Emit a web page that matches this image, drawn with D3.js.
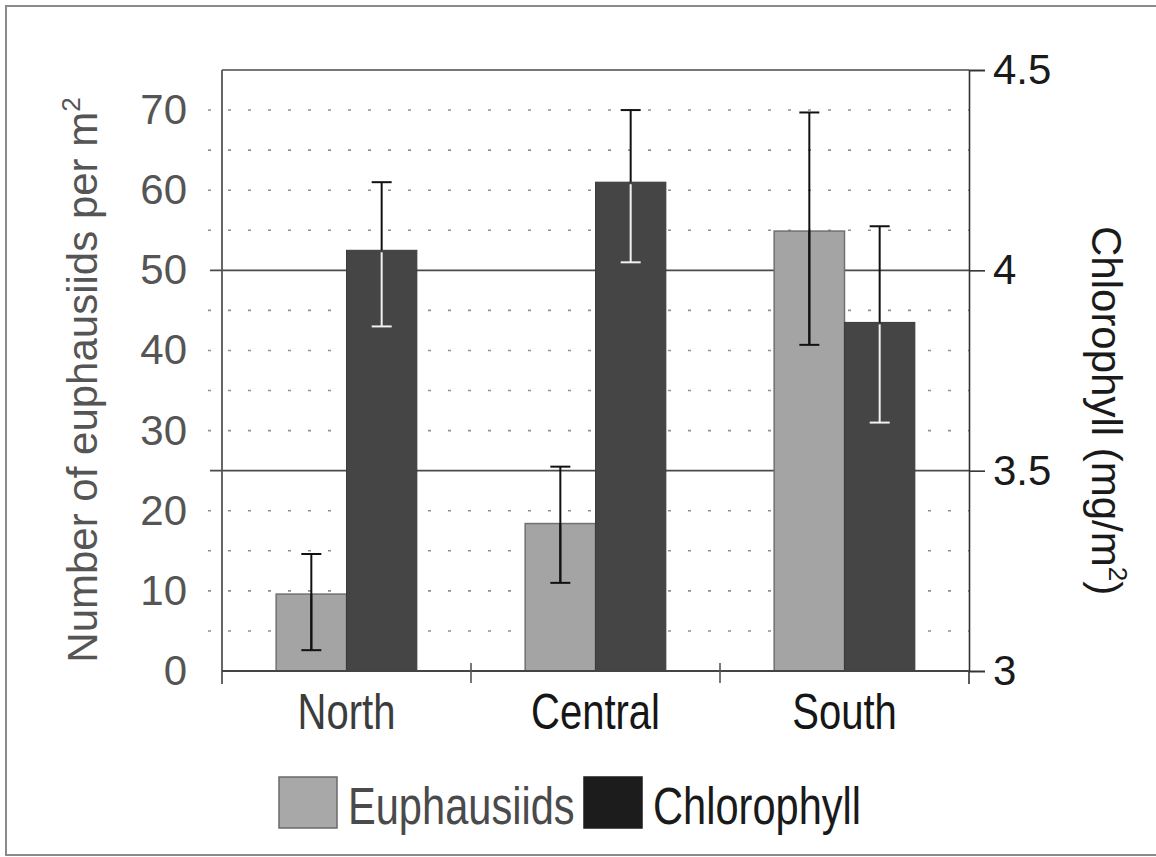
<!DOCTYPE html>
<html>
<head>
<meta charset="utf-8">
<script src="https://cdn.jsdelivr.net/npm/d3@7"></script>
<style>
  html, body { margin: 0; padding: 0; background: #fff; }
  svg { display: block; font-family: "Liberation Sans", Arial, Helvetica, sans-serif; }
</style>
</head>
<body>
<svg id="chart" width="1156" height="857"></svg>
<script>
// data
var categories = ["North", "Central", "South"];
var series = ["Euphausiids", "Chlorophyll"];

// euphausiids per m2 (left axis)
var euphausiids = [9.6, 18.4, 54.9];
var euphLow = [2.6, 11.0, 40.7];
var euphHigh = [14.6, 25.5, 69.7];

// chlorophyll mg/m2 (right axis)
var chlorophyll = [4.05, 4.22, 3.87];
var chlLow = [3.86, 4.02, 3.62];
var chlHigh = [4.22, 4.40, 4.11];

var leftTicks = [0, 10, 20, 30, 40, 50, 60, 70];
var rightTicks = [3, 3.5, 4, 4.5];

var svg = d3.select("#chart");

var plot = {left: 222, right: 969, top: 70, bottom: 671};

var yL = d3.scaleLinear().domain([0, 75]).range([plot.bottom, plot.top]);
var yR = d3.scaleLinear().domain([3, 4.5]).range([plot.bottom, plot.top]);

var x0 = d3.scaleBand().domain(categories).range([plot.left, plot.right]).paddingInner(0);
var x1 = d3.scaleBand().domain(series).range([0, x0.bandwidth()]).paddingInner(0).paddingOuter(0.77);

// outer frame
svg.append("rect")
  .attr("x", 6).attr("y", 6)
  .attr("width", 1170).attr("height", 849)
  .attr("fill", "none")
  .attr("stroke", "#8a8a8a")
  .attr("stroke-width", 2);

// dotted minor gridlines every 0.1 on the right axis
var minor = d3.range(31, 45).filter(function (v) { return v % 5 !== 0; }).map(function (v) { return v / 10; });

svg.append("g").selectAll("line")
  .data(minor)
  .enter().append("line")
  .attr("x1", plot.left - 14)
  .attr("x2", plot.right)
  .attr("y1", function (d) { return yR(d); })
  .attr("y2", function (d) { return yR(d); })
  .attr("stroke", "#8f8f8f")
  .attr("stroke-width", 1.6)
  .attr("stroke-dasharray", "3,17");

// solid major gridlines
svg.append("g").selectAll("line")
  .data([3.5, 4])
  .enter().append("line")
  .attr("x1", plot.left - 12)
  .attr("x2", plot.right)
  .attr("y1", function (d) { return yR(d); })
  .attr("y2", function (d) { return yR(d); })
  .attr("stroke", "#4a4a4a")
  .attr("stroke-width", 1.6);

// top border
svg.append("line")
  .attr("x1", plot.left).attr("x2", plot.right)
  .attr("y1", plot.top).attr("y2", plot.top)
  .attr("stroke", "#4a4a4a").attr("stroke-width", 1.6);

// bars
var groups = svg.append("g").selectAll("g")
  .data(categories)
  .enter().append("g")
  .attr("transform", function (d) { return "translate(" + x0(d) + ",0)"; });

groups.append("rect")
  .attr("x", x1("Euphausiids"))
  .attr("width", x1.bandwidth())
  .attr("y", function (d, i) { return yL(euphausiids[i]); })
  .attr("height", function (d, i) { return yL(0) - yL(euphausiids[i]); })
  .attr("fill", "#a4a4a4")
  .attr("stroke", "#707070")
  .attr("stroke-width", 1.5);

groups.append("rect")
  .attr("x", x1("Chlorophyll"))
  .attr("width", x1.bandwidth())
  .attr("y", function (d, i) { return yR(chlorophyll[i]); })
  .attr("height", function (d, i) { return yR(3) - yR(chlorophyll[i]); })
  .attr("fill", "#454545")
  .attr("stroke", "#3a3a3a")
  .attr("stroke-width", 1);

// error bars
var capW = 10;

function errorBar(g, cx, yTop, yBot, yBar, inside) {
  // black whisker
  g.append("line")
    .attr("x1", cx).attr("x2", cx)
    .attr("y1", yTop).attr("y2", inside ? yBar : yBot)
    .attr("stroke", "#111").attr("stroke-width", 2);
  g.append("line")
    .attr("x1", cx - capW).attr("x2", cx + capW)
    .attr("y1", yTop).attr("y2", yTop)
    .attr("stroke", "#111").attr("stroke-width", 2);
  var col = inside ? "#f2f2f2" : "#111";
  g.append("line")
    .attr("x1", cx).attr("x2", cx)
    .attr("y1", inside ? yBar + 2 : yBar).attr("y2", yBot)
    .attr("stroke", col).attr("stroke-width", 2);
  g.append("line")
    .attr("x1", cx - capW).attr("x2", cx + capW)
    .attr("y1", yBot).attr("y2", yBot)
    .attr("stroke", col).attr("stroke-width", 2);
}

groups.each(function (d, i) {
  var g = d3.select(this);
  var cxE = x1("Euphausiids") + x1.bandwidth() / 2;
  var cxC = x1("Chlorophyll") + x1.bandwidth() / 2;
  errorBar(g, cxE, yL(euphHigh[i]), yL(euphLow[i]), yL(euphausiids[i]), false);
  errorBar(g, cxC, yR(chlHigh[i]), yR(chlLow[i]), yR(chlorophyll[i]), true);
});

// left axis (labels only)
var leftAxis = svg.append("g")
  .attr("transform", "translate(" + plot.left + ",0)")
  .call(d3.axisLeft(yL).tickValues(leftTicks).tickSize(0).tickPadding(35));
leftAxis.select(".domain").remove();
leftAxis.selectAll("text")
  .attr("font-size", 42)
  .attr("font-family", "Liberation Sans, Arial, sans-serif")
  .attr("fill", "#555");

svg.append("line")
  .attr("x1", plot.left).attr("x2", plot.left)
  .attr("y1", plot.top).attr("y2", plot.bottom + 13)
  .attr("stroke", "#555").attr("stroke-width", 1.8);

// right axis
var rightAxis = svg.append("g")
  .attr("transform", "translate(" + plot.right + ",0)")
  .call(d3.axisRight(yR).tickValues(rightTicks).tickSize(16).tickPadding(8).tickFormat(d3.format("")));
rightAxis.select(".domain").attr("stroke", "#333").attr("stroke-width", 1.6);
rightAxis.selectAll(".tick line").attr("stroke", "#333").attr("stroke-width", 1.6);
rightAxis.selectAll("text")
  .attr("font-size", 42)
  .attr("font-family", "Liberation Sans, Arial, sans-serif")
  .attr("fill", "#1a1a1a");

svg.append("line")
  .attr("x1", plot.right).attr("x2", plot.right)
  .attr("y1", plot.bottom).attr("y2", plot.bottom + 13)
  .attr("stroke", "#333").attr("stroke-width", 1.6);

// category axis
svg.append("line")
  .attr("x1", plot.left).attr("x2", plot.right)
  .attr("y1", plot.bottom).attr("y2", plot.bottom)
  .attr("stroke", "#444").attr("stroke-width", 1.8);

var bounds = categories.map(function (c) { return x0(c); }).concat([x0.range()[1]]);
svg.append("g").selectAll("line")
  .data(bounds.slice(1, 3))
  .enter().append("line")
  .attr("x1", function (d) { return d; })
  .attr("x2", function (d) { return d; })
  .attr("y1", plot.bottom - 8)
  .attr("y2", plot.bottom + 12)
  .attr("stroke", "#555").attr("stroke-width", 1.6);

var catColors = ["#3c3c3c", "#161616", "#161616"];
svg.append("g").selectAll("text")
  .data(categories)
  .enter().append("text")
  .attr("transform", function (d) {
    return "translate(" + (x0(d) + x0.bandwidth() / 2) + ",729) scale(0.8,1)";
  })
  .attr("text-anchor", "middle")
  .attr("font-size", 50)
  .attr("fill", function (d, i) { return catColors[i]; })
  .text(function (d) { return d; });

// axis titles
var yTitle = svg.append("text")
  .attr("transform", "translate(97,380) rotate(-90)")
  .attr("text-anchor", "middle")
  .attr("font-size", 42)
  .attr("fill", "#555");
yTitle.append("tspan").text("Number of euphausiids per m");
yTitle.append("tspan").attr("font-size", 26).attr("dy", -17).text("2");

var rTitle = svg.append("text")
  .attr("transform", "translate(1092,226) rotate(90)")
  .attr("text-anchor", "start")
  .attr("font-size", 42)
  .attr("fill", "#1a1a1a");
rTitle.append("tspan").text("Chlorophyll (mg/m");
rTitle.append("tspan").attr("font-size", 26).attr("dy", -17).text("2");
rTitle.append("tspan").attr("dy", 17).text(")");

// legend
var legendItems = [
  {name: series[0], x: 279, fill: "#a8a8a8", stroke: "#6a6a6a", text: "#4a4a4a"},
  {name: series[1], x: 584, fill: "#1c1c1c", stroke: "#1c1c1c", text: "#1a1a1a"}
];

var legend = svg.append("g").selectAll("g")
  .data(legendItems)
  .enter().append("g")
  .attr("transform", function (d) { return "translate(" + d.x + ",777)"; });

legend.append("rect")
  .attr("width", 58).attr("height", 51)
  .attr("fill", function (d) { return d.fill; })
  .attr("stroke", function (d) { return d.stroke; })
  .attr("stroke-width", 1.5);

legend.append("text")
  .attr("transform", "translate(69,47) scale(0.8,1)")
  .attr("font-size", 52)
  .attr("fill", function (d) { return d.text; })
  .text(function (d) { return d.name; });
</script>
</body>
</html>
